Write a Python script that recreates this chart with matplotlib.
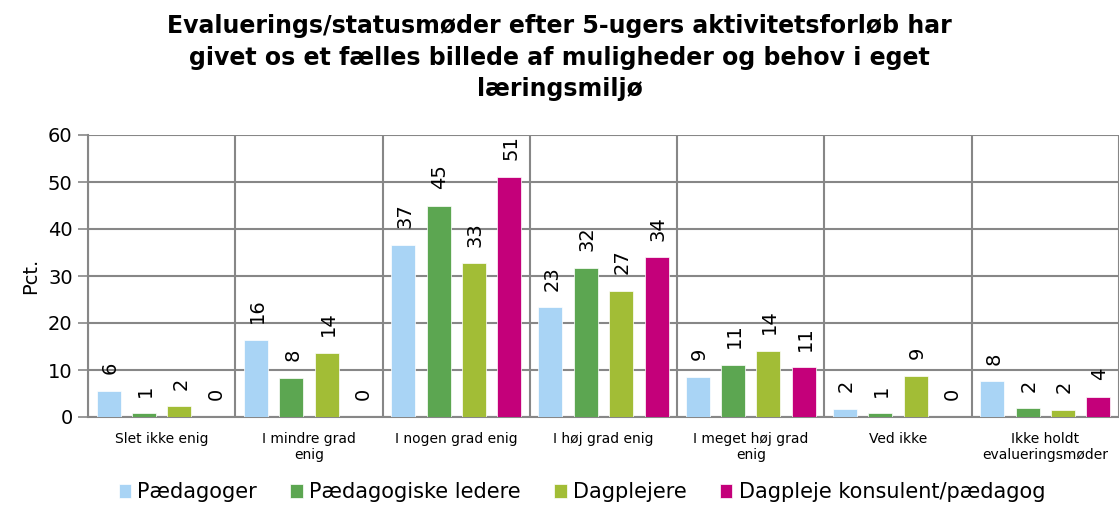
import matplotlib
matplotlib.use("Agg")
import matplotlib.pyplot as plt
import numpy as np

categories = ["Slet ikke enig", "I mindre grad\nenig", "I nogen grad enig", "I høj grad enig",
              "I meget høj grad\nenig", "Ved ikke", "Ikke holdt\nevalueringsmøder"]
series_names = ["Pædagoger", "Pædagogiske ledere", "Dagplejere", "Dagpleje konsulent/pædagog"]
paedagoger = [5.6, 16.4, 36.6, 23.3, 8.6, 1.8, 7.6]
paed_ledere = [0.8, 8.4, 45.0, 31.8, 11.1, 0.8, 1.85]
dagplejere = [2.3, 13.7, 32.7, 26.8, 14.1, 8.7, 1.5]
konsulent = [0.0, 0.0, 51.1, 34.0, 10.6, 0.0, 4.3]
colors = ["#A9D4F5", "#5CA651", "#A2BD36", "#C4007A"]
yticks = [0, 10, 20, 30, 40, 50, 60]

plt.rcParams['font.family'] = ['DejaVu Sans']
fig = plt.figure(figsize=(11.19, 5.16), dpi=100)
ax = fig.add_axes([88/1119, 99/516, 1 - 88/1119, 282/516])

data = [paedagoger, paed_ledere, dagplejere, konsulent]
x = np.arange(len(categories))
pitch = 0.24
width = 0.163
for i, (vals, name, c) in enumerate(zip(data, series_names, colors)):
    pos = x + (i - 1.5) * pitch
    bars = ax.bar(pos, vals, width=width, color=c, label=name, zorder=3,
                  edgecolor='white', linewidth=0.5)
    for b, v in zip(bars, vals):
        ax.annotate(f"{v:.0f}", (b.get_x() + b.get_width()/2, v), xytext=(1, 12),
                    textcoords='offset points', ha='center', va='bottom',
                    rotation=90, fontsize=14, color='black')

ax.set_xlim(-0.5, len(categories) - 0.5)
ax.set_ylim(0, 60)
ax.set_yticks(yticks)
ax.tick_params(axis='y', labelsize=14, length=7, width=1.2, color='#878787', pad=4)
ax.set_xticks(x)
ax.set_xticklabels(categories, fontsize=10)
ax.tick_params(axis='x', length=0, pad=11)
ax.set_xticks(np.arange(len(categories) + 1) - 0.5, minor=True)
ax.tick_params(axis='x', which='minor', length=0)
ax.grid(axis='y', which='major', color='#878787', linewidth=1.5, zorder=0)
ax.grid(axis='x', which='minor', color='#878787', linewidth=1.5, zorder=0)
ax.grid(axis='x', which='major', visible=False)
for s in ['top', 'right']:
    ax.spines[s].set_visible(False)
for s in ['left', 'bottom']:
    ax.spines[s].set_color('#878787')
    ax.spines[s].set_linewidth(1.5)
ax.set_ylabel("Pct.", fontsize=14, labelpad=6)

fig.text(0.5, 0.972, "Evaluerings/statusmøder efter 5-ugers aktivitetsforløb har\n"
         "givet os et fælles billede af muligheder og behov i eget\nlæringsmiljø",
         ha='center', va='top', fontsize=17, fontweight='bold', linespacing=1.38)

fig.legend(loc='lower center', bbox_to_anchor=(0.52, -0.01), ncol=4, frameon=False,
           fontsize=15, handlelength=0.6, handleheight=0.6, handletextpad=0.3,
           columnspacing=1.6)

fig.savefig("out.png", dpi=100)
